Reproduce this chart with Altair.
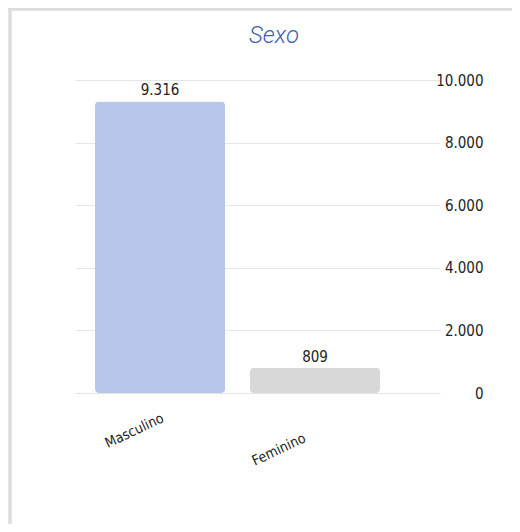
import altair as alt
import pandas as pd

# ---- data ----
categories = ["Masculino", "Feminino"]
values = [9316, 809]
bar_colors = ["#b7c6ea", "#d8d8d8"]
y_ticks = [0, 2000, 4000, 6000, 8000, 10000]
title_text = ["Sexo"]

df = pd.DataFrame({"sexo": categories, "total": values})
title_df = pd.DataFrame({"t": title_text})

FONT = "Liberation Sans Narrow, Arial Narrow, DejaVu Sans Condensed, sans-serif"
W, H = 365, 313
PAD = {"left": 67, "top": 72, "right": 72, "bottom": 131}

x_enc = alt.X(
    "sexo:N",
    sort=categories,
    scale=alt.Scale(paddingInner=0.16, paddingOuter=0.2575, align=0.25),
    axis=alt.Axis(
        title=None, labelAngle=335, domain=False, ticks=False,
        labelFont=FONT, labelFontSize=14, labelColor="#222222",
        labelPadding={"expr": "datum.value == 'Feminino' ? 38 : 18"},
        labelOffset={"expr": "datum.value == 'Feminino' ? -13 : 0"},
    ),
)
y_enc = alt.Y(
    "total:Q",
    scale=alt.Scale(domain=[0, 10000]),
    axis=alt.Axis(
        orient="right", values=y_ticks, title=None, domain=False, ticks=False,
        labelExpr="replace(format(datum.value, ','), ',', '.')",
        labelAlign="right", labelPadding=43, labelBaseline="middle",
        labelFont=FONT, labelFontSize=15, labelColor="#222222",
        grid=True, gridColor="#e4e4e4", gridWidth=1.2,
    ),
)

base = alt.Chart(df).encode(x=x_enc, y=y_enc)

bars = base.mark_bar(cornerRadius=4).encode(
    color=alt.Color("sexo:N", scale=alt.Scale(domain=categories, range=bar_colors), legend=None)
)

labels = base.transform_calculate(
    lbl="replace(format(datum.total, ','), ',', '.')"
).mark_text(baseline="bottom", dy=-3, font=FONT, fontSize=15, color="#222222").encode(text="lbl:N")

# chart title as a text mark
title_mark = alt.Chart(title_df).mark_text(
    font="Roboto", fontStyle="italic", fontWeight=300, fontSize=24,
    color="#3f5fa8", align="center", baseline="bottom",
).encode(x=alt.value(199), y=alt.value(-32), text="t:N")

# card frame (decoration)
frame_left = alt.Chart(df).mark_rule(color="#dcdcdc", strokeWidth=3).encode(
    x=alt.value(-65), y=alt.value(-72), y2=alt.value(H + PAD["bottom"])
)
frame_top = alt.Chart(df).mark_rule(color="#dcdcdc", strokeWidth=3).encode(
    x=alt.value(-67), x2=alt.value(W + PAD["right"]), y=alt.value(-71)
)

chart = alt.layer(frame_left, frame_top, title_mark, bars, labels).properties(
    width=W, height=H,
    padding=PAD,
    autosize=alt.AutoSizeParams(type="none"),
    background="white",
).configure_view(strokeWidth=0)

chart.save("out.html", embed_options={"renderer": "svg", "actions": False})
